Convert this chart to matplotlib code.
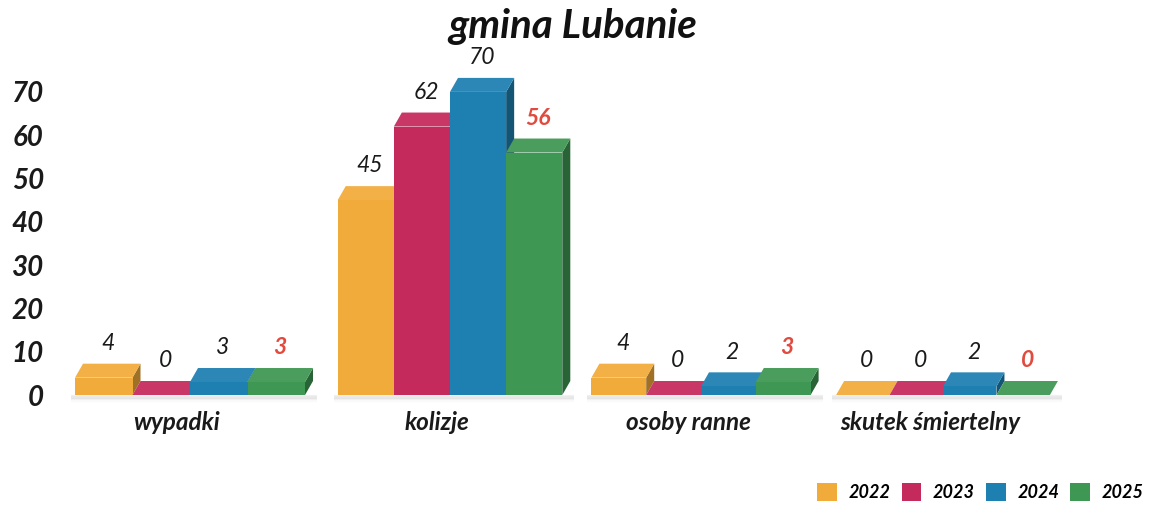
import matplotlib
matplotlib.use("Agg")
import matplotlib.pyplot as plt
from matplotlib.patches import Polygon, Patch
from matplotlib.colors import to_rgb

plt.rcParams['font.family'] = ['Lato', 'DejaVu Sans']

# Data
categories = ["wypadki", "kolizje", "osoby ranne", "skutek śmiertelny"]
years = ["2022", "2023", "2024", "2025"]
values = {
    "2022": [4, 45, 4, 0],
    "2023": [0, 62, 0, 0],
    "2024": [3, 70, 2, 2],
    "2025": [3, 56, 3, 0],
}
yticks = [0, 10, 20, 30, 40, 50, 60, 70]
title = "gmina Lubanie"

colors = {"2022": "#F1AB3A", "2023": "#C52A5C", "2024": "#1E7FB1", "2025": "#3E9752"}
highlight_year = "2025"
highlight_color = "#E14A3E"
text_color = "#1a1a1a"

W, H = 1153, 505
fig = plt.figure(figsize=(W / 100, H / 100), dpi=100)
# axes: x in pixel units from 55 to the right edge, y from the floor (px 395) up to px 45
ax = fig.add_axes([55 / W, (H - 395) / H, 1 - 55 / W, (395 - 45) / H])
px_per_unit = 4.33
ax.set_ylim(0, 350 / px_per_unit)
ax.set_xlim(55, W)

dx = 8                        # depth shift to the right (px)
dy = 14 / px_per_unit         # depth shift upward (value units)


def group_center(i):
    # slight perspective: groups get closer and narrower to the right
    return 190 + 264.5 * i - 4.5 * i * i


def bar_width(i):
    return 57.5 - 1.35 * i


def shade(c, f):
    r, g, b = to_rgb(c)
    if f < 1:
        return (r * f, g * f, b * f)
    return tuple(v + (1 - v) * (f - 1) for v in (r, g, b))


n = len(years)

# soft floor shadow under each group
for ci in range(len(categories)):
    c, bw = group_center(ci), bar_width(ci)
    left = c - n * bw / 2 - 4
    right = c + n * bw / 2 + dx + 4
    for k, a in enumerate([0.10, 0.06, 0.03]):
        ax.plot([left, right], [-0.4 - 0.35 * k] * 2, color="#777777",
                alpha=a, lw=3, solid_capstyle="butt", clip_on=False, zorder=1)

for ci in range(len(categories)):
    c, bw = group_center(ci), bar_width(ci)
    for yi, yr in enumerate(years):
        v = values[yr][ci]
        x0 = c - n * bw / 2 + yi * bw
        col = colors[yr]
        z = 2 + yi
        # front face
        ax.bar(x0, v, width=bw, align="edge", color=col, edgecolor="none", zorder=z + 0.3)
        # side face
        ax.add_patch(Polygon([(x0 + bw, 0), (x0 + bw, v), (x0 + bw + dx, v + dy),
                              (x0 + bw + dx, dy)], closed=True,
                             facecolor=shade(col, 0.66), edgecolor="none", zorder=z + 0.1))
        # top face
        ax.add_patch(Polygon([(x0, v), (x0 + bw, v), (x0 + bw + dx, v + dy), (x0 + dx, v + dy)],
                             closed=True, facecolor=shade(col, 1.06), edgecolor="none",
                             zorder=z + 0.2))
        # value label
        is_hl = yr == highlight_year
        ax.annotate(str(v), (x0 + bw / 2 + dx / 2, v + dy), xytext=(0, 7),
                    textcoords="offset points", ha="center", va="bottom",
                    fontsize=16.5, fontstyle="italic",
                    fontweight="bold" if is_hl else "normal",
                    color=highlight_color if is_hl else text_color, zorder=10)

# category labels under the groups
for ci, name in enumerate(categories):
    ax.text(group_center(ci) - 13, -8.1, name, ha="center", va="baseline", fontsize=17.5,
            fontweight="bold", fontstyle="italic", color=text_color, clip_on=False)

ax.set_yticks(yticks)
ax.set_yticklabels([str(t) for t in yticks], fontsize=20, fontweight="bold",
                   fontstyle="italic", color=text_color)
ax.tick_params(axis="y", length=0, pad=8)
ax.set_xticks([])
for s in ax.spines.values():
    s.set_visible(False)

fig.text(573 / W, (H - 38) / H, title, ha="center", va="baseline", fontsize=29,
         fontweight="bold", fontstyle="italic", color="#111111")

handles = [Patch(facecolor=colors[y], edgecolor="none") for y in years]
fig.legend(handles, years, ncol=4, loc="lower right", bbox_to_anchor=(1144 / W, 4 / H),
           borderaxespad=0, borderpad=0, frameon=False, handlelength=1.1, handleheight=1.1,
           handletextpad=0.65, columnspacing=0.6,
           prop={"size": 13, "weight": "bold", "style": "italic"})

fig.savefig("out.png", dpi=100)
